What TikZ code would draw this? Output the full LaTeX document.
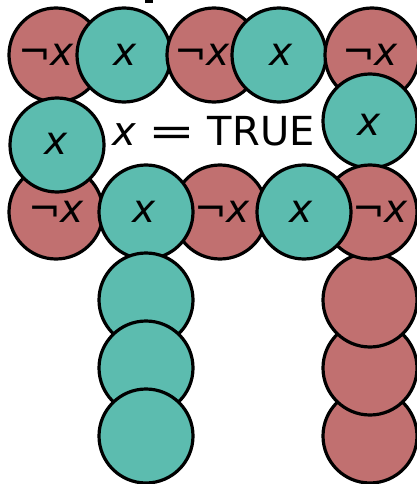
\documentclass[tikz,border=0pt]{standalone}
\usepackage{fontspec}
\setmainfont{DejaVu Sans}
\definecolor{lit}{RGB}{92,188,175}
\definecolor{neglit}{RGB}{193,112,112}
\newcommand{\posx}{{\itshape x}}
\newcommand{\negx}{¬{\itshape x}}
\tikzset{
  token/.style={circle, draw=black, line width=3.2pt, minimum size=94pt, inner sep=0pt},
  posdisc/.style={token, fill=lit},
  negdisc/.style={token, fill=neglit},
  lab/.style={font=\fontsize{39}{39}\selectfont, inner sep=0pt},
  eqlab/.style={font=\fontsize{40}{40}\selectfont, inner sep=0pt},
}
\begin{document}
\begin{tikzpicture}[x=1pt, y=-1pt]
  \useasboundingbox (0,0) rectangle (417,484);
  % fragment of the heading above
  \fill (145,0) rectangle (153,3);
  % top row
  \node[negdisc, label={[lab,xshift=-10pt]center:\negx}] (a1) at (56,55) {};
  \node[posdisc, label={[lab,xshift=1pt]center:\posx}]   (a2) at (124,55) {};
  \node[negdisc, label={[lab,xshift=-12pt]center:\negx}] (a3) at (214,55) {};
  \node[posdisc, label={[lab,xshift=2pt]center:\posx}]   (a4) at (279,55) {};
  \node[negdisc, label={[lab,xshift=-2pt]center:\negx}]  (a5) at (372,55) {};
  % right link
  \node[posdisc, label={[lab,xshift=-1pt,yshift=-4pt]center:\posx}] (b2) at (370,121) {};
  % right column
  \node[negdisc] (d3) at (370,436) {};
  \node[negdisc] (d2) at (370,368) {};
  \node[negdisc] (d1) at (370,300) {};
  % middle row
  \node[negdisc, label={[lab,xshift=10pt]center:\negx}] (c5) at (370,212) {};
  \node[negdisc, label={[lab,xshift=2pt]center:\negx}]  (c3) at (220,212) {};
  \node[negdisc, label={[lab]center:\negx}]             (c1) at (56,212) {};
  \node[posdisc, label={[lab,xshift=-3pt]center:\posx}] (c4) at (304,212) {};
  \node[posdisc, label={[lab,xshift=-2pt]center:\posx}] (c2) at (146,212) {};
  % left column
  \node[posdisc] (e1) at (146,300) {};
  \node[posdisc] (e2) at (146,368) {};
  \node[posdisc] (e3) at (146,436) {};
  % left link
  \node[posdisc, label={[lab,xshift=-1pt,yshift=1pt]center:\posx}] (b1) at (57,145) {};
  % assignment
  \node[eqlab, anchor=base west] (eq) at (112,146)
    {\posx\hspace{13pt}\scalebox{1.4}[1]{=}\hspace{12pt}TRUE};
\end{tikzpicture}
\end{document}
